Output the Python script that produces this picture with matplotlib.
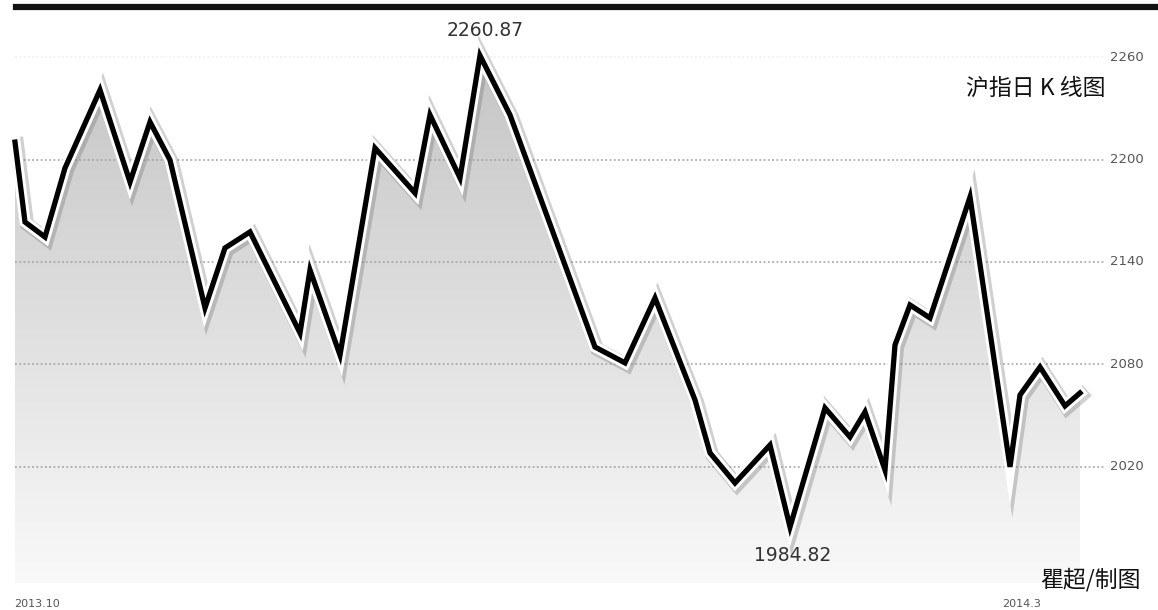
import matplotlib.pyplot as plt
import matplotlib.patheffects as pe
import numpy as np
from matplotlib.lines import Line2D

plt.rcParams['font.family'] = ['Noto Sans CJK SC', 'DejaVu Sans']

# trading-day position and close of each turning point on the daily line
days = [0, 2, 6, 10, 17, 23, 27, 31, 38, 42, 47, 57, 59, 65, 72, 80, 83, 89,
        93, 99, 116, 122, 128, 136, 139, 144, 151, 155, 162, 167, 170, 174,
        176, 179, 183, 191, 199, 201, 205, 210, 213]
close = [2210.2, 2163.4, 2154.6, 2195.0, 2240.7, 2186.8, 2222.0, 2199.7,
         2113.1, 2148.2, 2157.6, 2098.4, 2135.3, 2085.5, 2206.7, 2180.4,
         2226.1, 2189.2, 2260.87, 2226.1, 2090.2, 2080.9, 2118.9, 2059.2,
         2028.2, 2010.6, 2032.8, 1984.82, 2054.5, 2037.5, 2052.2, 2018.2,
         2091.4, 2114.8, 2107.2, 2178.0, 2020.0, 2062.1, 2078.5, 2055.7, 2063.3]
grid_levels = [2020, 2080, 2140, 2200, 2260]
x_labels = ['2013.10', '2014.3']

fig = plt.figure(figsize=(11.58, 6.10), dpi=100)
ax = fig.add_axes([0, 0, 1, 1])
ax.set_xlim(-3, 228.6)
ax.set_ylim(1936.2, 2293.4)
ax.axis('off')

x = np.array(days)
y = np.array(close)
base = 1952

# gradient fill under the line
grad = np.linspace(0, 1, 256).reshape(-1, 1)
img = ax.imshow(grad, extent=[x[0], x[-1], base, 2265], origin='upper',
                cmap=plt.cm.colors.LinearSegmentedColormap.from_list(
                    'g', ['#c4c4c4', '#f9f9f9']),
                aspect='auto', zorder=1)
poly = ax.fill_between(x, y, base, color='none', zorder=1)
img.set_clip_path(poly.get_paths()[0], transform=ax.transData)

# dotted grid lines
for lv in grid_levels:
    c = '#eeeeee' if lv == 2260 else '#a0a0a0'
    ax.plot([0, 218], [lv, lv], ls=(0, (1.2, 1.6)), lw=1.1, color=c, zorder=2)
    ax.text(219.0, lv, str(lv), fontsize=9.5, color='#555555', va='center',
            ha='left', family='DejaVu Sans', zorder=3)

# line with white outline and soft shadow
ax.plot(x, y, color='black', lw=3.8, solid_joinstyle='miter', zorder=4,
        path_effects=[pe.SimpleLineShadow(offset=(1.5, -1.5), shadow_color='#666666',
                                          alpha=0.3, linewidth=10),
                      pe.Stroke(linewidth=8, foreground='white'),
                      pe.Normal()])

# extreme values
imax = int(np.argmax(y))
imin = int(np.argmin(y))
ax.text(x[imax] + 1, y[imax] + 9, '%.2f' % y[imax], ha='center', va='bottom',
        fontsize=13.5, color='#333333', family='DejaVu Sans')
ax.text(x[imin] + 0.6, y[imin] - 11, '%.2f' % y[imin], ha='center', va='top',
        fontsize=13.5, color='#333333', family='DejaVu Sans')

fig.text(0.955, 0.855, '沪指日 K 线图', ha='right', va='center', fontsize=16.5,
         color='#111111')
fig.text(0.985, 0.05, '瞿超/制图', ha='right', va='center', fontsize=16.5,
         color='#111111')
fig.text(0.012, 0.002, x_labels[0], ha='left', va='bottom', fontsize=8,
         color='#555555', family='DejaVu Sans')
fig.text(0.865, 0.002, x_labels[1], ha='left', va='bottom', fontsize=8,
         color='#555555', family='DejaVu Sans')

# black bar along the top
fig.add_artist(Line2D([0.014, 1.0], [0.988, 0.988], color='#111111', lw=4.5,
                      transform=fig.transFigure))

fig.savefig('out.png', dpi=100)
